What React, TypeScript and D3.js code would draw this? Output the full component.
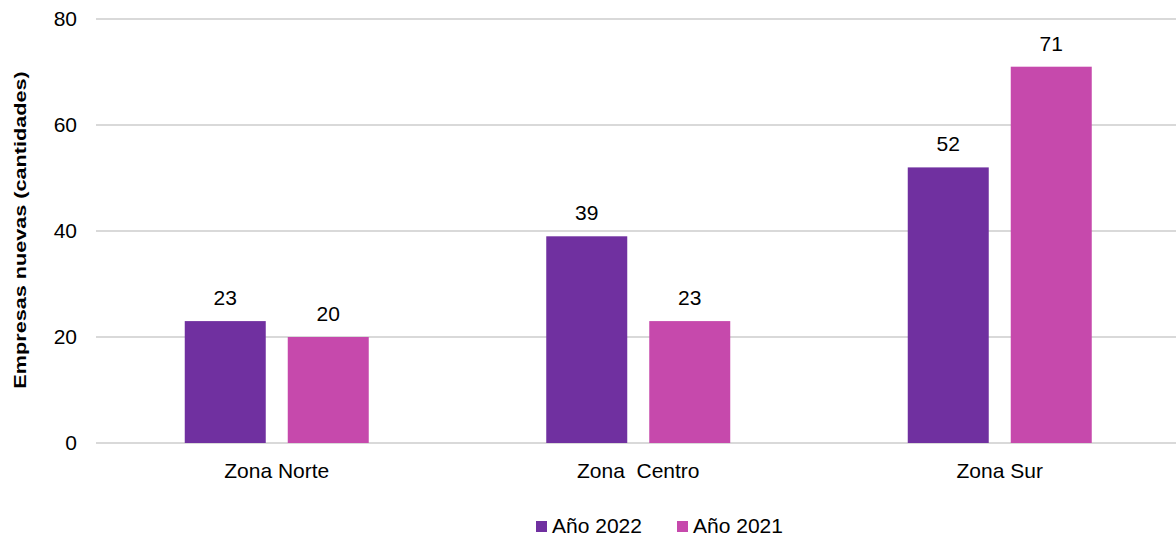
import React from 'react';
import * as d3 from 'd3';

const zonas = ['Zona Norte', 'Zona  Centro', 'Zona Sur'];
const series = ['Año 2022', 'Año 2021'];
const valores2022 = [23, 39, 52];
const valores2021 = [20, 23, 71];
const yTicks = [0, 20, 40, 60, 80];
const colores = ['#7030a0', '#c649ac'];

const W = 1176;
const H = 538;
const font = "'Liberation Sans', Arial, Helvetica, sans-serif";
const fs = 21;

const App: React.FC = () => {
  const data = zonas.map((z, i) => ({ zona: z, vals: [valores2022[i], valores2021[i]] }));

  // category bands, bars grouped at the centre of each band
  const x = d3.scaleBand<string>().domain(zonas).range([96, 1180.5]).padding(0);
  const groupW = 184;
  const xi = d3.scaleBand<string>().domain(series).range([0, groupW]).paddingInner(0.2136);
  const y = d3.scaleLinear().domain([0, 80]).range([443, 19]);

  return (
    <svg width={W} height={H} style={{ position: 'absolute', left: 0, top: 0, background: '#fff' }} fontFamily={font}>
      {yTicks.map(t => (
        <g key={t}>
          <line x1={96} x2={W} y1={y(t)} y2={y(t)} stroke="#d9d9d9" strokeWidth={2} />
          <text x={77} y={y(t)} dy="0.35em" textAnchor="end" fontSize={fs} fill="#000">{t}</text>
        </g>
      ))}
      <text transform={`translate(26,${(y(0) + y(80)) / 2 - 1}) rotate(-90) scale(1.03,0.8)`} textAnchor="middle" fontSize={fs} fontWeight="bold" fill="#000">
        Empresas nuevas (cantidades)
      </text>
      {data.map(d => {
        const gx = (x(d.zona) ?? 0) + x.bandwidth() / 2 - groupW / 2;
        return (
          <g key={d.zona} transform={`translate(${gx},0)`}>
            {d.vals.map((v, j) => (
              <g key={j}>
                <rect x={xi(series[j])} y={y(v)} width={xi.bandwidth()} height={y(0) - y(v)} fill={colores[j]} />
                <text x={(xi(series[j]) ?? 0) + xi.bandwidth() / 2} y={y(v) - 16} textAnchor="middle" fontSize={fs} fill="#000">{v}</text>
              </g>
            ))}
            <text x={groupW / 2} y={478} textAnchor="middle" fontSize={fs} fill="#000" style={{ whiteSpace: 'pre' }}>{d.zona}</text>
          </g>
        );
      })}
      {series.map((s, j) => (
        <g key={s} transform={`translate(${536 + j * 141},521)`}>
          <rect width={11} height={11} fill={colores[j]} />
          <text x={16} y={12} fontSize={fs} fill="#000">{s}</text>
        </g>
      ))}
    </svg>
  );
};

export default App;
